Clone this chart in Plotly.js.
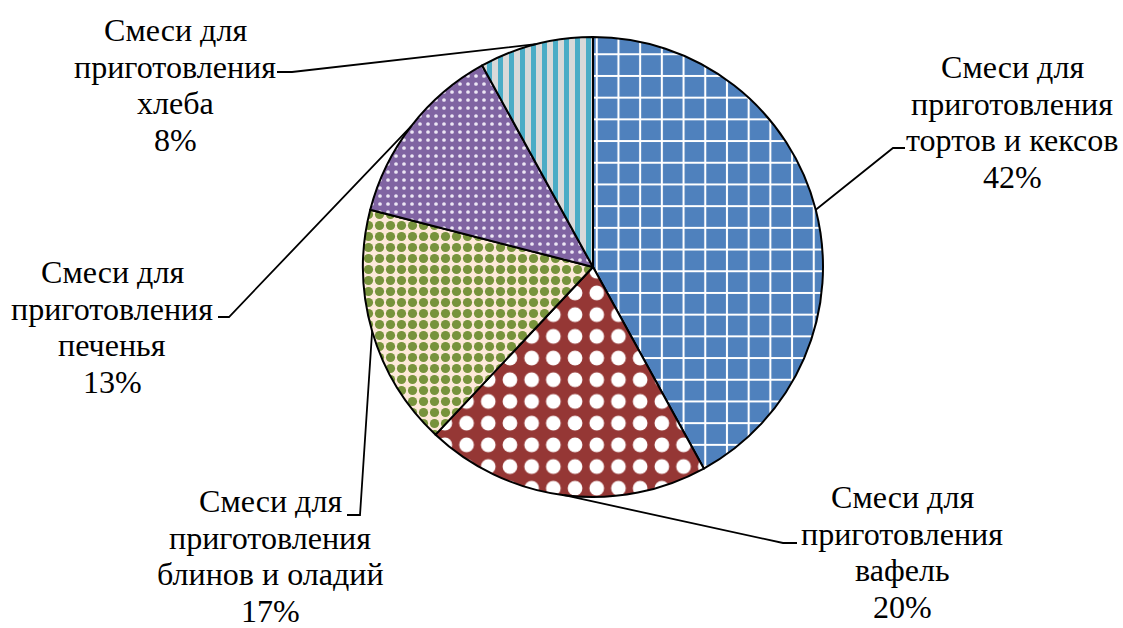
<!DOCTYPE html>
<html>
<head>
<meta charset="utf-8">
<script src="https://cdn.plot.ly/plotly-3.0.1.min.js"></script>
<style>
  html, body { margin: 0; padding: 0; background: #ffffff; }
  #chart { width: 1123px; height: 628px; }
</style>
</head>
<body>
<div id="chart"></div>
<script>
// Structure of the market of ready-made baking mixes, shares in %
var categories = [
  ["Смеси для", "приготовления", "тортов и кексов"],
  ["Смеси для", "приготовления", "вафель"],
  ["Смеси для", "приготовления", "блинов и оладий"],
  ["Смеси для", "приготовления", "печенья"],
  ["Смеси для", "приготовления", "хлеба"]
];
var shares = [42, 20, 17, 13, 8];

// Fill colours and hatch patterns for each slice
var bgColors = ["#4f81bd", "#953735", "#fde9d9", "#8064a2", "#d9d9d9"];
var fgColors = ["#ffffff", "#ffffff", "#77933c", "#ece6f4", "#4bacc6"];
var patternShapes = ["+", ".", ".", ".", "|"];
var patternSizes = [21.7, 21.7, 11, 8, 11];
var patternSolidity = [0.18, 0.36, 0.55, 0.17, 0.45];

// Page geometry (pixels)
var W = 1123, H = 628;
var CX = 593, CY = 267, R = 230;
var LINE_H = 36.5;
var WORD_W = 202;   // wanted width of the word "приготовления"

// Label block centres and the short horizontal tick of each leader line
var labelPos = [
  { x: 1012, y: 122, tick: [905, 893, 148] },
  { x: 902,  y: 552, tick: [797, 783, 543] },
  { x: 270,  y: 556, tick: [347, 360, 515] },
  { x: 112,  y: 327, tick: [218, 229, 317] },
  { x: 175,  y: 85,  tick: [277, 292, 72] }
];

function px(x) { return x / W; }
function py(y) { return 1 - y / H; }

// choose the first installed serif face and a size that fits the labels
var ctx = document.createElement("canvas").getContext("2d");
function textWidth(font, s) { ctx.font = font; return ctx.measureText(s).width; }
function pickFamily(cands) {
  var probe = "приготовления 42% Смеси";
  var base = textWidth("32px monospace", probe);
  for (var i = 0; i < cands.length; i++) {
    if (Math.abs(textWidth("32px '" + cands[i] + "', monospace", probe) - base) > 0.5) return cands[i];
  }
  return "serif";
}
var family = pickFamily(["Liberation Serif", "Tinos", "Times New Roman", "DejaVu Serif", "Noto Serif"]);
var fontSize = 32;
var measured = textWidth("32px '" + family + "'", "приготовления");
if (measured > 0) fontSize = Math.max(20, Math.min(34, 32 * WORD_W / measured));

var labelFont = { family: "'" + family + "', serif", size: fontSize, color: "#000000" };

var total = shares.reduce(function (a, b) { return a + b; }, 0);
var annotations = [];
var shapes = [];
var cum = 0;
shares.forEach(function (v, i) {
  // slice middle, measured clockwise from 12 o'clock
  var mid = (cum + v / 2) / total * 2 * Math.PI;
  cum += v;
  var ax = CX + R * Math.sin(mid);
  var ay = CY - R * Math.cos(mid);
  var lp = labelPos[i];
  var lines = categories[i].concat([v + "%"]);
  lines.forEach(function (txt, k) {
    annotations.push({
      xref: "paper", yref: "paper",
      x: px(lp.x), y: py(lp.y + (k - (lines.length - 1) / 2) * LINE_H),
      xanchor: "center", yanchor: "middle",
      text: txt,
      showarrow: false,
      font: labelFont
    });
  });
  var t = lp.tick;
  shapes.push({
    type: "path", xref: "paper", yref: "paper",
    path: "M " + px(t[0]) + " " + py(t[2]) +
          " L " + px(t[1]) + " " + py(t[2]) +
          " L " + px(ax) + " " + py(ay),
    line: { color: "#000000", width: 1.8 },
    fillcolor: "rgba(0,0,0,0)"
  });
});

var trace = {
  type: "pie",
  values: shares,
  labels: categories.map(function (c) { return c.join(" "); }),
  sort: false,
  direction: "clockwise",
  rotation: 0,
  textinfo: "none",
  hoverinfo: "skip",
  domain: { x: [px(CX - R), px(CX + R)], y: [py(CY + R), py(CY - R)] },
  marker: {
    colors: bgColors,
    line: { color: "#000000", width: 2 },
    pattern: {
      shape: patternShapes,
      bgcolor: bgColors,
      fgcolor: fgColors,
      size: patternSizes,
      solidity: patternSolidity,
      fillmode: "replace"
    }
  }
};

var layout = {
  width: W, height: H,
  margin: { l: 0, r: 0, t: 0, b: 0 },
  paper_bgcolor: "#ffffff",
  plot_bgcolor: "#ffffff",
  showlegend: false,
  hovermode: false,
  font: labelFont,
  annotations: annotations,
  shapes: shapes
};

Plotly.newPlot("chart", [trace], layout, { displayModeBar: false, staticPlot: true });
</script>
</body>
</html>
